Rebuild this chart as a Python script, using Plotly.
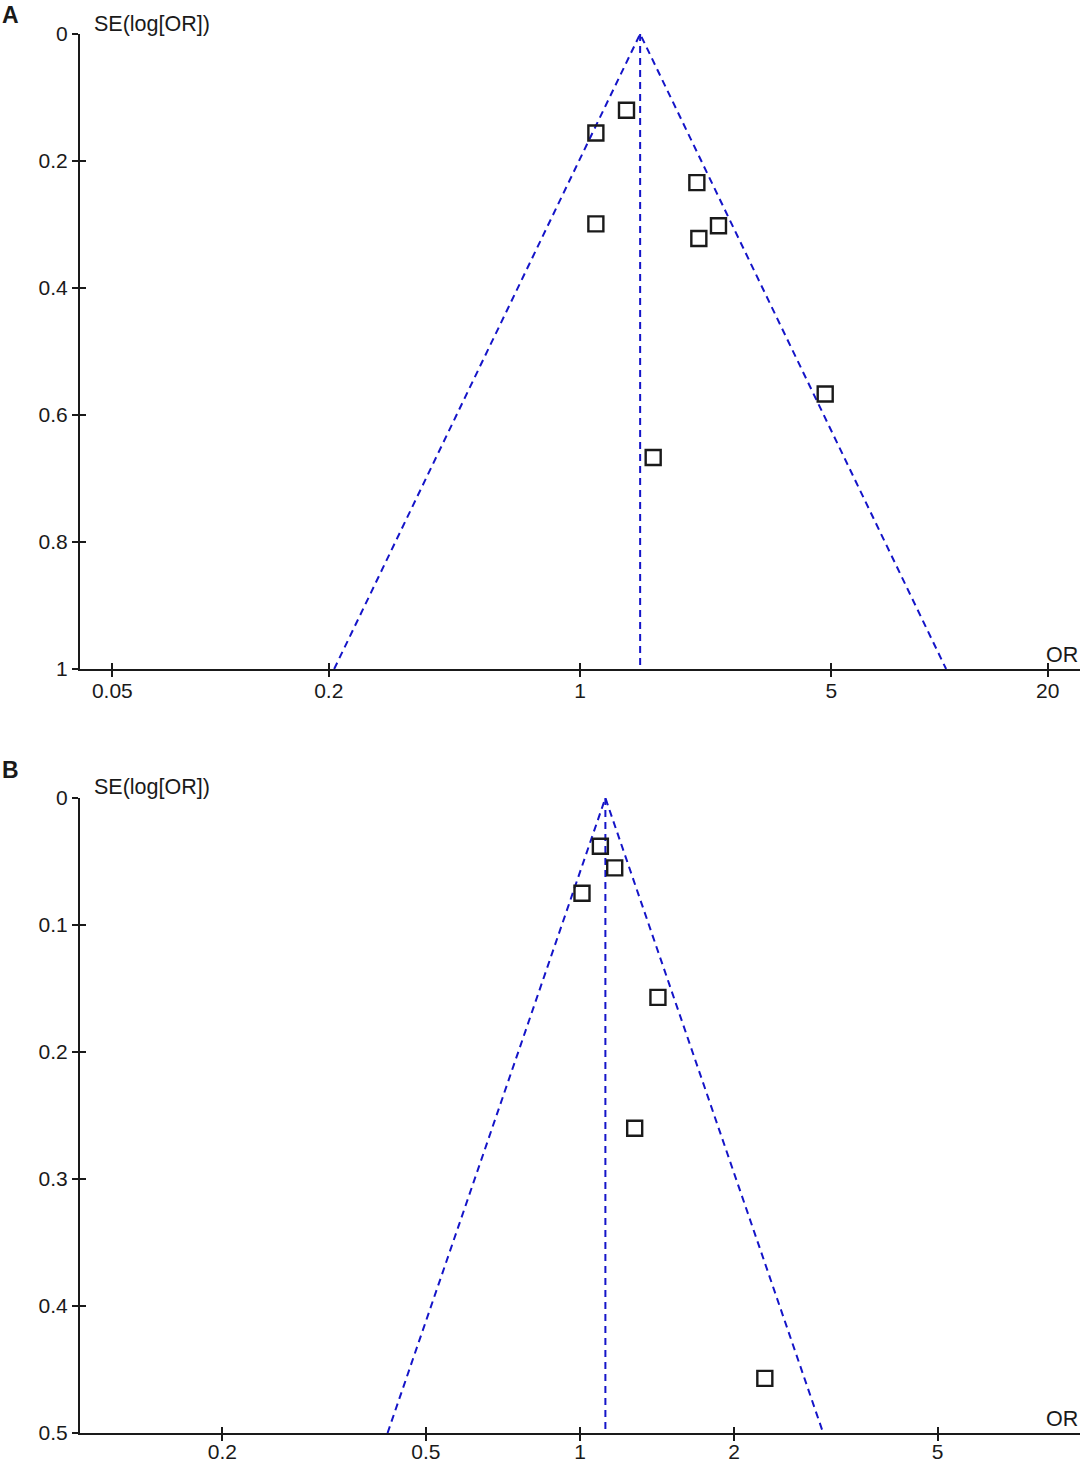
import numpy as np
import plotly.graph_objects as go

# Panel A data
or_a = [1.347, 1.107, 2.114, 1.107, 2.428, 2.141, 4.81, 1.598]
se_a = [0.120, 0.156, 0.234, 0.299, 0.302, 0.322, 0.567, 0.667]
pooled_a = 1.47
se_max_a = 1.0
xticks_a = [0.05, 0.2, 1, 5, 20]
yticks_a = [0, 0.2, 0.4, 0.6, 0.8, 1]

# Panel B data
or_b = [1.096, 1.169, 1.009, 1.420, 1.279, 2.297]
se_b = [0.038, 0.055, 0.075, 0.157, 0.260, 0.457]
pooled_b = 1.121
se_max_b = 0.5
xticks_b = [0.2, 0.5, 1, 2, 5]
yticks_b = [0, 0.1, 0.2, 0.3, 0.4, 0.5]

W, H = 1080, 1463
FONT = "Liberation Sans, Arial, sans-serif"
BLUE = "#1414C8"
INK = "#1a1a1a"


def px(p):
    return p / W


def py(p):
    return 1 - p / H


def tick_label(v):
    return f"{v:g}"


fig = go.Figure()


def add_panel(n, ors, ses, pooled, se_max):
    xa, ya = f"x{n}" if n > 1 else "x", f"y{n}" if n > 1 else "y"
    # funnel (pseudo 95% limits)
    lo = pooled * np.exp(-1.96 * se_max)
    hi = pooled * np.exp(1.96 * se_max)
    dash = dict(color=BLUE, width=2, dash="7px,5px")
    fig.add_trace(go.Scatter(
        x=[lo, pooled, hi], y=[se_max, 0, se_max], mode="lines",
        line=dash, xaxis=xa, yaxis=ya, showlegend=False, hoverinfo="skip",
    ))
    fig.add_trace(go.Scatter(
        x=[pooled, pooled], y=[0, se_max], mode="lines",
        line=dash, xaxis=xa, yaxis=ya, showlegend=False, hoverinfo="skip",
    ))
    fig.add_trace(go.Scatter(
        x=ors, y=ses, mode="markers",
        marker=dict(symbol="square-open", size=15, color=INK, line=dict(width=2.4, color=INK)),
        xaxis=xa, yaxis=ya, showlegend=False,
    ))


add_panel(1, or_a, se_a, pooled_a, se_max_a)
add_panel(2, or_b, se_b, pooled_b, se_max_b)

# empty traces on overlay axes so the inward tick halves render
for xa, ya in [("x3", "y3"), ("x4", "y4")]:
    fig.add_trace(go.Scatter(x=[], y=[], xaxis=xa, yaxis=ya, showlegend=False))

common_x = dict(type="log", showgrid=False, zeroline=False, showline=True, automargin=False,
                linecolor=INK, linewidth=2, tickcolor=INK, tickwidth=1.5, ticklen=6,
                ticklabelstandoff=-4,
                tickfont=dict(family=FONT, size=21, color=INK))
common_y = dict(showgrid=False, zeroline=False, showline=True, automargin=False,
                linecolor=INK, linewidth=2, tickcolor=INK, tickwidth=1.5, ticklen=6,
                tickfont=dict(family=FONT, size=21, color=INK))

dom_x = [px(80), 1]
xr_a = [-1.391, 1.391]
xr_b = [-0.977, 0.977]
dom_a = [py(669), py(34)]
dom_b = [py(1433), py(798)]

fig.update_layout(
    template="none",
    width=W, height=H,
    margin=dict(l=0, r=0, t=0, b=0, autoexpand=False),
    paper_bgcolor="white", plot_bgcolor="white",
    font=dict(family=FONT, size=21, color=INK),
    showlegend=False,
    xaxis=dict(common_x, domain=dom_x, range=xr_a, anchor="y", ticks="outside",
               tickvals=xticks_a, ticktext=[tick_label(v) for v in xticks_a]),
    yaxis=dict(common_y, domain=dom_a, range=[se_max_a, 0], anchor="x", ticks="outside",
               tickvals=yticks_a, ticktext=[tick_label(v) for v in yticks_a]),
    xaxis2=dict(common_x, domain=dom_x, range=xr_b, anchor="y2", ticks="outside",
                ticklabelstandoff=-7,
                tickvals=xticks_b, ticktext=[tick_label(v) for v in xticks_b]),
    yaxis2=dict(common_y, domain=dom_b, range=[se_max_b, 0], anchor="x2", ticks="outside",
                tickvals=yticks_b, ticktext=[tick_label(v) for v in yticks_b]),
    xaxis3=dict(common_x, domain=dom_x, range=xr_a, anchor="y3", overlaying="x", ticks="inside",
                tickvals=xticks_a, showticklabels=False, showline=False),
    yaxis3=dict(common_y, domain=dom_a, range=[se_max_a, 0], anchor="x3", overlaying="y", ticks="inside",
                tickvals=yticks_a, showticklabels=False, showline=False),
    xaxis4=dict(common_x, domain=dom_x, range=xr_b, anchor="y4", overlaying="x2", ticks="inside",
                tickvals=xticks_b, showticklabels=False, showline=False),
    yaxis4=dict(common_y, domain=dom_b, range=[se_max_b, 0], anchor="x4", overlaying="y2", ticks="inside",
                tickvals=yticks_b, showticklabels=False, showline=False),
)

annots = [
    ("<b>A</b>", 0, 15, "left", 23),
    ("SE(log[OR])", px(92), 24, "left", 21.5),
    ("OR", 1.0, 655, "right", 21.5),
    ("<b>B</b>", 0, 770, "left", 23),
    ("SE(log[OR])", px(92), 787, "left", 21.5),
    ("OR", 1.0, 1419, "right", 21.5),
]
for text, x, ypx, xanc, size in annots:
    fig.add_annotation(text=text, x=x, y=py(ypx), xref="paper", yref="paper",
                       xanchor=xanc, yanchor="middle", showarrow=False,
                       font=dict(family=FONT, size=size, color=INK))

# drop the default body margin so the figure fills the window exactly
fig.write_html(
    "out.html",
    config={"displayModeBar": False},
    post_script="document.body.style.margin='0';document.body.style.overflow='hidden';",
)
